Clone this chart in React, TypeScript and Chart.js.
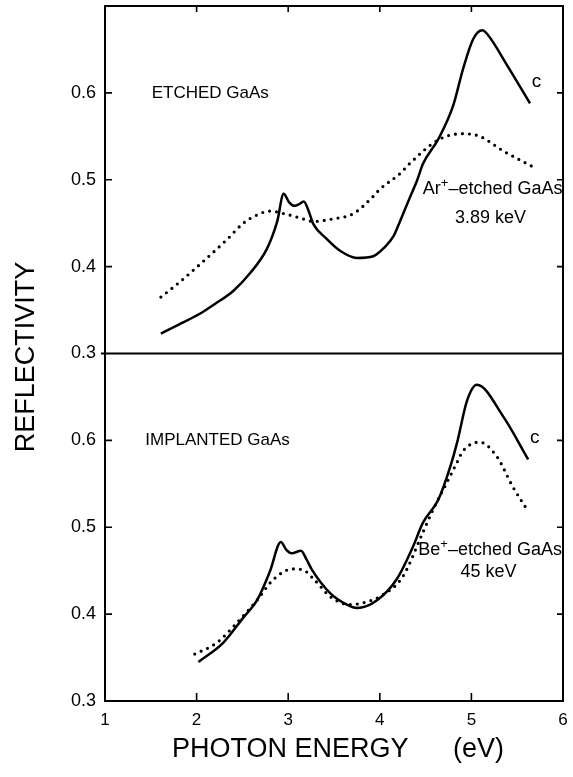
import React, { useEffect, useRef } from "react";
import { Chart, registerables } from "chart.js";

Chart.register(...registerables);

// ---- Data (photon energy in eV, reflectivity) ----
const etchedCEnergy = [1.61, 1.8, 2.04, 2.2, 2.4, 2.58, 2.77, 2.88, 2.95, 3.01, 3.07, 3.12, 3.17, 3.22, 3.27, 3.42, 3.57, 3.75, 3.93, 4.05, 4.15, 4.22, 4.33, 4.41, 4.47, 4.64, 4.8, 4.91, 5.02, 5.12, 5.17, 5.4, 5.64];
const etchedCRefl = [0.323, 0.333, 0.346, 0.357, 0.372, 0.392, 0.421, 0.452, 0.484, 0.474, 0.47, 0.472, 0.475, 0.465, 0.45, 0.432, 0.418, 0.41, 0.412, 0.422, 0.435, 0.452, 0.48, 0.5, 0.518, 0.547, 0.585, 0.628, 0.662, 0.672, 0.668, 0.63, 0.588];

const etchedArEnergy = [1.61, 1.79, 2.04, 2.33, 2.51, 2.65, 2.8, 2.99, 3.13, 3.27, 3.49, 3.71, 3.93, 4.0, 4.22, 4.33, 4.64, 4.9, 5.09, 5.35, 5.67];
const etchedArRefl = [0.365, 0.38, 0.403, 0.431, 0.45, 0.459, 0.464, 0.46, 0.456, 0.452, 0.455, 0.461, 0.481, 0.489, 0.507, 0.519, 0.546, 0.553, 0.55, 0.533, 0.515];

const implCEnergy = [2.02, 2.29, 2.51, 2.66, 2.8, 2.92, 2.98, 3.04, 3.14, 3.2, 3.26, 3.46, 3.64, 3.75, 3.97, 4.19, 4.36, 4.47, 4.64, 4.77, 4.85, 4.95, 5.06, 5.35, 5.62];
const implCRefl = [0.345, 0.367, 0.396, 0.416, 0.449, 0.483, 0.474, 0.47, 0.473, 0.463, 0.451, 0.424, 0.411, 0.407, 0.416, 0.441, 0.477, 0.505, 0.532, 0.57, 0.6, 0.645, 0.664, 0.627, 0.578];

const implBeEnergy = [1.98, 2.22, 2.44, 2.66, 2.83, 3.05, 3.16, 3.29, 3.46, 3.67, 3.82, 4.03, 4.25, 4.47, 4.58, 4.73, 4.84, 4.91, 5.09, 5.28, 5.45, 5.61];
const implBeRefl = [0.354, 0.367, 0.39, 0.416, 0.439, 0.452, 0.451, 0.439, 0.42, 0.411, 0.413, 0.422, 0.443, 0.494, 0.52, 0.551, 0.574, 0.588, 0.598, 0.581, 0.547, 0.52];

const xTickValues = [1, 2, 3, 4, 5, 6];
const yTickValues = [0.3, 0.4, 0.5, 0.6];

const FONT = "'Liberation Sans', Arial, Helvetica, sans-serif";

type Piece = { text: string; sup?: boolean };
type Note = { axis: string; x: number; y: number; size: number; pieces: Piece[] };

const notes: Note[] = [
  { axis: "yTop", x: 1.51, y: 0.6, size: 17, pieces: [{ text: "ETCHED GaAs" }] },
  { axis: "yTop", x: 5.66, y: 0.613, size: 19, pieces: [{ text: "c" }] },
  { axis: "yTop", x: 4.47, y: 0.489, size: 18, pieces: [{ text: "Ar" }, { text: "+", sup: true }, { text: "\u2013etched GaAs" }] },
  { axis: "yTop", x: 4.82, y: 0.456, size: 18, pieces: [{ text: "3.89 keV" }] },
  { axis: "yBot", x: 1.44, y: 0.6, size: 17, pieces: [{ text: "IMPLANTED GaAs" }] },
  { axis: "yBot", x: 5.64, y: 0.603, size: 19, pieces: [{ text: "c" }] },
  { axis: "yBot", x: 4.42, y: 0.474, size: 18, pieces: [{ text: "Be" }, { text: "+", sup: true }, { text: "\u2013etched GaAs" }] },
  { axis: "yBot", x: 4.88, y: 0.449, size: 18, pieces: [{ text: "45 keV" }] },
];

function pts(xs: number[], ys: number[]) {
  return xs.map((x, i) => ({ x, y: ys[i] }));
}

const framePlugin = {
  id: "frame",
  afterDraw(chart: any) {
    const { ctx, chartArea: a, scales } = chart;
    const xs = scales.x;
    const yt = scales.yTop;
    const yb = scales.yBot;
    ctx.save();
    ctx.strokeStyle = "#000";
    ctx.lineWidth = 2;
    ctx.strokeRect(a.left, a.top, a.right - a.left, a.bottom - a.top);
    // divider between panels
    const mid = yt.getPixelForValue(0.3);
    ctx.beginPath();
    ctx.moveTo(a.left - 4, mid);
    ctx.lineTo(a.right, mid);
    ctx.stroke();
    ctx.lineWidth = 1.6;
    // y ticks (inward)
    for (const sc of [yt, yb]) {
      for (const v of yTickValues) {
        if (v <= 0.3) continue;
        const py = sc.getPixelForValue(v);
        ctx.beginPath();
        ctx.moveTo(a.left, py);
        ctx.lineTo(a.left + 7, py);
        ctx.moveTo(a.right, py);
        ctx.lineTo(a.right - 6, py);
        ctx.stroke();
      }
    }
    // x ticks (inward)
    for (const v of xTickValues) {
      if (v <= 1 || v >= 6) continue;
      const px = xs.getPixelForValue(v);
      ctx.beginPath();
      ctx.moveTo(px, a.bottom);
      ctx.lineTo(px, a.bottom - 8);
      ctx.moveTo(px, a.top);
      ctx.lineTo(px, a.top + 6);
      ctx.stroke();
    }
    // annotations
    ctx.fillStyle = "#000";
    ctx.textBaseline = "middle";
    ctx.textAlign = "left";
    for (const n of notes) {
      let px = xs.getPixelForValue(n.x);
      const py = scales[n.axis].getPixelForValue(n.y);
      for (const p of n.pieces) {
        const size = p.sup ? Math.round(n.size * 0.7) : n.size;
        ctx.font = `${size}px ${FONT}`;
        ctx.fillText(p.text, px, p.sup ? py - n.size * 0.3 : py);
        px += ctx.measureText(p.text).width;
      }
    }
    // axis titles
    ctx.font = `27px ${FONT}`;
    ctx.textBaseline = "middle";
    ctx.textAlign = "left";
    ctx.fillText("PHOTON ENERGY", 172, 750);
    ctx.fillText("(eV)", 453, 750);
    ctx.save();
    ctx.translate(27, 357);
    ctx.rotate(-Math.PI / 2);
    ctx.textAlign = "center";
    ctx.fillText("REFLECTIVITY", 0, 0);
    ctx.restore();
    ctx.restore();
  },
};

export default function App() {
  const ref = useRef<HTMLCanvasElement | null>(null);
  useEffect(() => {
    if (!ref.current) return;
    const solid = { borderColor: "#000", borderWidth: 2.5, pointRadius: 0, cubicInterpolationMode: "monotone" as const, fill: false };
    const dotted = { borderColor: "#000", borderWidth: 3.2, borderDash: [0, 7], borderCapStyle: "round" as const, pointRadius: 0, cubicInterpolationMode: "monotone" as const, fill: false };
    const yScale = () => ({
      type: "linear" as const,
      position: "left" as const,
      stack: "panels",
      stackWeight: 1,
      min: 0.3,
      max: 0.7,
      grid: { display: false, drawTicks: false },
      border: { display: false },
      afterFit: (s: any) => {
        s.width = 105;
        s.paddingTop = 0;
        s.paddingBottom = 0;
      },
      ticks: {
        stepSize: 0.1,
        padding: 9,
        color: "#000",
        font: { size: 18, family: FONT },
        callback: (v: any) => (Number(v) > 0.65 ? "" : Number(v).toFixed(1)),
      },
    });
    const chart = new Chart(ref.current, {
      type: "line",
      data: {
        datasets: [
          { ...solid, data: pts(etchedCEnergy, etchedCRefl), yAxisID: "yTop" },
          { ...dotted, data: pts(etchedArEnergy, etchedArRefl), yAxisID: "yTop" },
          { ...solid, data: pts(implCEnergy, implCRefl), yAxisID: "yBot" },
          { ...dotted, data: pts(implBeEnergy, implBeRefl), yAxisID: "yBot" },
        ],
      },
      options: {
        responsive: false,
        animation: false,
        layout: { padding: { top: 6, right: 10, left: 0, bottom: 0 } },
        plugins: { legend: { display: false }, tooltip: { enabled: false } },
        scales: {
          x: {
            type: "linear",
            min: 1,
            max: 6,
            grid: { display: false, drawTicks: false },
            border: { display: false },
            afterFit: (s: any) => {
              s.height = 76;
              s.paddingLeft = 0;
              s.paddingRight = 0;
            },
            ticks: { stepSize: 1, padding: 9, color: "#000", font: { size: 17, family: FONT } },
          },
          // stacked left axes: the later-defined one is placed on top
          yBot: yScale(),
          yTop: yScale(),
        },
      },
      plugins: [framePlugin],
    } as any);
    return () => chart.destroy();
  }, []);
  return (
    <div style={{ position: "absolute", left: 0, top: 0, width: 573, height: 777, background: "#fff" }}>
      <canvas ref={ref} width={573} height={777} style={{ display: "block" }} />
    </div>
  );
}
